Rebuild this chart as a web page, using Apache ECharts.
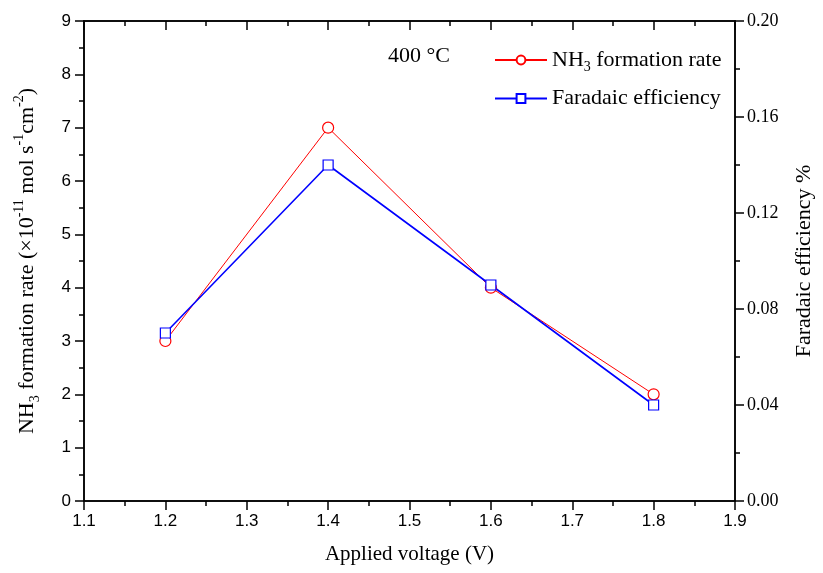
<!DOCTYPE html>
<html>
<head>
<meta charset="utf-8">
<script src="https://cdn.jsdelivr.net/npm/echarts@6/dist/echarts.min.js"></script>
<style>
  html, body { margin: 0; padding: 0; background: #fff; }
  #chart { width: 823px; height: 573px; }
</style>
</head>
<body>
<div id="chart"></div>
<script>
// data
const voltage = [1.2, 1.4, 1.6, 1.8];
const nh3Rate = [3, 7, 4, 2];              // x10^-11 mol s-1 cm-2
const faradaic = [0.07, 0.14, 0.09, 0.04]; // %
const tempLabel = '400 °C';

const serif = '"Liberation Serif", "Times New Roman", serif';
const sans = '"Liberation Sans", Arial, sans-serif';

let chart = echarts.init(document.getElementById('chart'));

let axisLine = { show: true, onZero: false, lineStyle: { color: '#000', width: 1.5 } };
let tickStyle = { color: '#000', width: 1.5 };

let option = {
  backgroundColor: '#fff',
  animation: false,
  grid: { left: 84, right: 86, top: 21, bottom: 72,
    show: true, borderColor: '#000', borderWidth: 1.5, backgroundColor: 'transparent' },
  graphic: [{
    type: 'text', left: 388, top: 45,
    style: { text: tempLabel, font: '22px ' + serif, fill: '#000' }
  }],
  legend: {
    orient: 'vertical',
    left: 489, top: 44,
    itemWidth: 52, itemHeight: 11, itemGap: 13,
    data: ['NH3 formation rate', 'Faradaic efficiency'],
    textStyle: {
      fontFamily: serif, fontSize: 22, color: '#000',
      rich: {
        t: { fontFamily: serif, fontSize: 22, color: '#000' },
        s: { fontFamily: serif, fontSize: 14, color: '#000', verticalAlign: 'bottom', padding: [15, 0, 0, 0] }
      }
    },
    formatter: function(name) {
      if (name.indexOf('NH3') === 0) {
        return '{t|NH}{s|3}{t| formation rate}';
      }
      return name;
    }
  },
  xAxis: [{
    type: 'value', min: 1.1, max: 1.9, interval: 0.1,
    name: 'Applied voltage (V)', nameLocation: 'middle', nameGap: 43,
    nameTextStyle: { fontFamily: serif, fontSize: 21, color: '#000' },
    axisLine: axisLine,
    axisTick: { show: true, inside: false, length: 9, lineStyle: tickStyle },
    minorTick: { show: true, splitNumber: 2, length: 5, lineStyle: tickStyle },
    axisLabel: { fontFamily: sans, fontSize: 17, color: '#000', margin: 12,
      formatter: function(v) { return v.toFixed(1); } },
    splitLine: { show: false }
  }, {
    type: 'value', position: 'top', min: 1.1, max: 1.9, interval: 0.1,
    axisLine: axisLine,
    axisTick: { show: true, inside: true, length: 9, lineStyle: tickStyle },
    minorTick: { show: true, splitNumber: 2, length: 5, lineStyle: tickStyle },
    axisLabel: { show: false },
    splitLine: { show: false }
  }],
  yAxis: [{
    type: 'value', min: 0, max: 9, interval: 1,
    name: '{t|NH}{s|3}{t| formation rate (×10}{p|-11}{t| mol s}{p|-1}{t|cm}{p|-2}{t|)}',
    nameLocation: 'middle', nameGap: 42, nameRotate: 90,
    nameTextStyle: {
      rich: {
        t: { fontFamily: serif, fontSize: 22, color: '#000' },
        s: { fontFamily: serif, fontSize: 14, color: '#000', verticalAlign: 'bottom', padding: [16, 0, 0, 0] },
        p: { fontFamily: serif, fontSize: 14, color: '#000', verticalAlign: 'top', padding: [0, 0, 12, 0] }
      }
    },
    axisLine: axisLine,
    axisTick: { show: true, inside: false, length: 9, lineStyle: tickStyle },
    minorTick: { show: true, splitNumber: 2, length: 5, lineStyle: tickStyle },
    axisLabel: { fontFamily: sans, fontSize: 17, color: '#000', margin: 13 },
    splitLine: { show: false }
  }, {
    type: 'value', position: 'right', min: 0, max: 0.2, interval: 0.04,
    name: 'Faradaic efficiency %', nameLocation: 'middle', nameGap: 58, nameRotate: 90,
    nameTextStyle: { fontFamily: serif, fontSize: 22, color: '#000' },
    axisLine: axisLine,
    axisTick: { show: true, inside: false, length: 9, lineStyle: tickStyle },
    minorTick: { show: true, splitNumber: 2, length: 5, lineStyle: tickStyle },
    axisLabel: { fontFamily: serif, fontSize: 18, color: '#000', margin: 12,
      formatter: function(v) { return v.toFixed(2); } },
    splitLine: { show: false }
  }],
  series: [{
    name: 'NH3 formation rate',
    type: 'line',
    xAxisIndex: 0, yAxisIndex: 0,
    data: voltage.map((v, i) => [v, nh3Rate[i]]),
    symbol: 'circle', symbolSize: 11,
    lineStyle: { color: '#ff0000', width: 1 },
    itemStyle: { color: '#fff', borderColor: '#ff0000', borderWidth: 1.2 }
  }, {
    name: 'Faradaic efficiency',
    type: 'line',
    xAxisIndex: 0, yAxisIndex: 1,
    data: voltage.map((v, i) => [v, faradaic[i]]),
    symbol: 'rect', symbolSize: 10,
    lineStyle: { color: '#0000ff', width: 1.6 },
    itemStyle: { color: '#fff', borderColor: '#0000ff', borderWidth: 1.2 }
  }, {
    // empty series so the top frame axis is laid out with ticks
    name: 'frame',
    type: 'line',
    xAxisIndex: 1, yAxisIndex: 0,
    data: [],
    silent: true
  }]
};

chart.setOption(option);
</script>
</body>
</html>
